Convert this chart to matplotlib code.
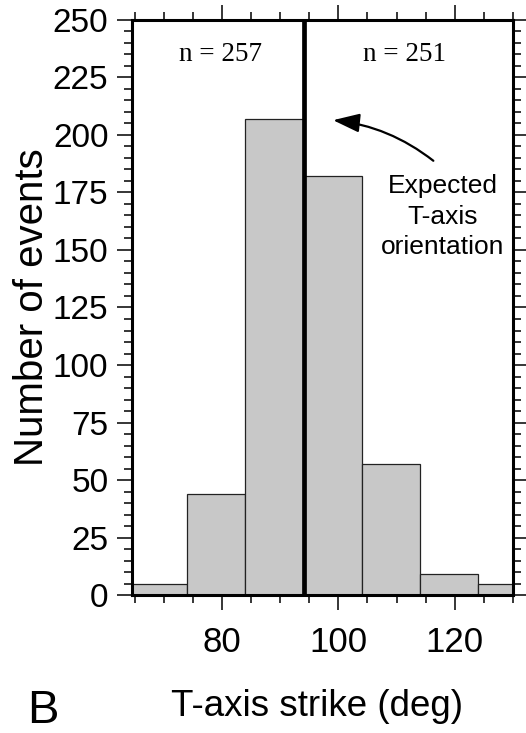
import numpy as np
import matplotlib.pyplot as plt
from matplotlib.ticker import MultipleLocator

# histogram of T-axis strike
bin_edges = [64, 74, 84, 94, 104, 114, 124, 134]
counts = [5, 44, 207, 182, 57, 9, 5]
expected_strike = 94.1
n_labels = ["n = 257", "n = 251"]
x_ticks = [80, 100, 120]
y_ticks = [0, 25, 50, 75, 100, 125, 150, 175, 200, 225, 250]

plt.rcParams['font.family'] = ['Liberation Sans', 'DejaVu Sans']

fig = plt.figure(figsize=(5.26, 7.33), dpi=100)
ax = fig.add_axes([0.251, 0.188, 0.724, 0.785])

lefts = np.array(bin_edges[:-1])
widths = np.diff(bin_edges)
ax.bar(lefts, counts, width=widths, align='edge', color='#c8c8c8',
       edgecolor='#222222', linewidth=0.9, zorder=2)

ax.axvline(expected_strike, color='black', linewidth=3.4, zorder=3)

ax.set_xlim(64.5, 130)
ax.set_ylim(0, 250)
ax.set_xticks(x_ticks)
ax.set_yticks(y_ticks)
ax.xaxis.set_minor_locator(MultipleLocator(5))
ax.yaxis.set_minor_locator(MultipleLocator(5))
ax.tick_params(axis='both', which='both', direction='out', top=True, right=True,
               width=1.1, color='black')
ax.tick_params(axis='both', which='major', length=11)
ax.tick_params(axis='both', which='minor', length=5.5)
ax.tick_params(axis='x', which='major', labelsize=25, pad=11)
ax.tick_params(axis='y', which='major', labelsize=24, pad=6)
for sp in ax.spines.values():
    sp.set_linewidth(2.2)

ax.set_ylabel("Number of events", fontsize=29, labelpad=1)
fig.text(0.603, 0.036, "T-axis strike (deg)", fontsize=26.5, ha='center', va='center')
fig.text(0.082, 0.030, "B", fontsize=34, ha='center', va='center')

serif = ['Liberation Serif', 'DejaVu Serif']
ax.text(0.232, 0.94, n_labels[0], transform=ax.transAxes, fontsize=19.5,
        family=serif, ha='center', va='center')
ax.text(0.715, 0.94, n_labels[1], transform=ax.transAxes, fontsize=19.5,
        family=serif, ha='center', va='center')

ax.text(117.9, 164.5, "Expected\nT-axis\norientation", fontsize=19,
        ha='center', va='center', linespacing=1.36, zorder=4)
ax.annotate("", xy=(98.6, 206.5), xytext=(116.7, 188),
            arrowprops=dict(arrowstyle='-|>,head_length=0.9,head_width=0.32',
                            connectionstyle='arc3,rad=0.15', color='black',
                            linewidth=1.6, mutation_scale=18))

fig.savefig("out.png", dpi=100)
